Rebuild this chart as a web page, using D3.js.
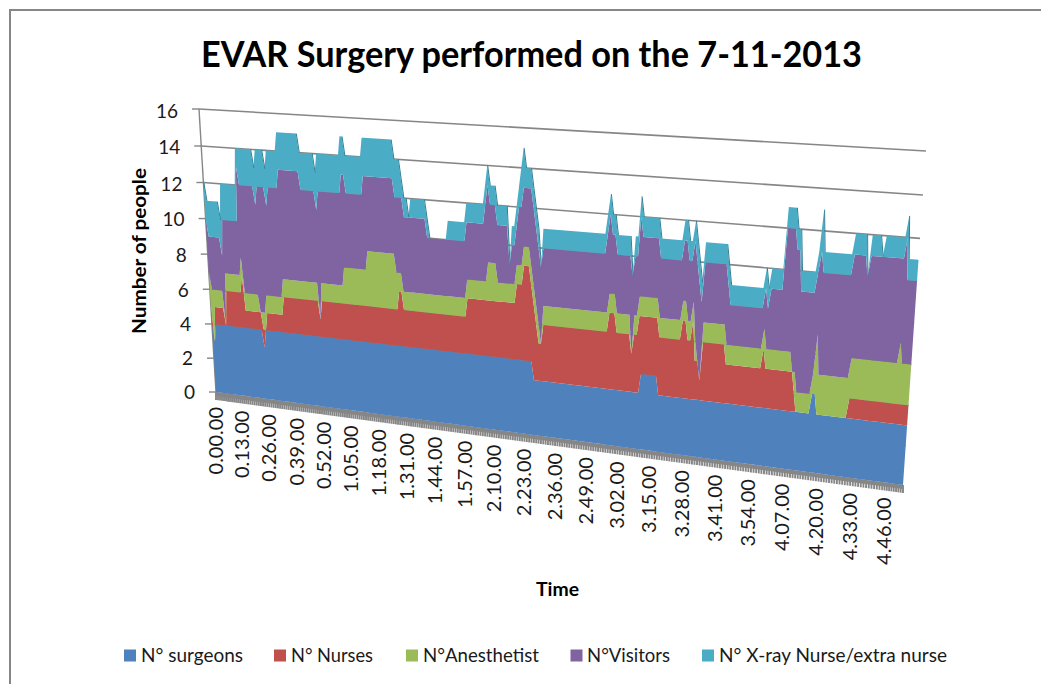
<!DOCTYPE html>
<html><head><meta charset="utf-8">
<style>html,body{margin:0;padding:0;background:#fff;overflow:hidden}svg{display:block}text{font-family:Lato,"Noto Sans",sans-serif}</style>
<script src="https://cdn.jsdelivr.net/npm/d3@7/dist/d3.min.js"></script>
</head><body><svg id="c" width="1041" height="684"></svg>
<script>
// Start minute of each run of constant staffing; a run lasts until the next start.
const runStart = [0,1,2,7,8, 16,17,24,25,26, 27,29,30,35,45, 52,53,64,66,74, 75,88,89,91,92, 94,95,102,103,111,
  119,127,128,129,132, 137,138,140,141,142, 143,144,146,147,148, 149,150,151,177,178, 179,181,187,188,190,
  191,198,207,209,211, 212,213,214,215,224, 225,238,239,240,245, 249,250,251,257,258, 259,270,271,275,276, 280,281,289,290];
const lastMinute = 294;
const surgeons = [4,3,4,4,4, 4,4,4,3,4, 4,4,4,4,4, 4,4,4,4,4, 4,4,4,4,4, 4,4,4,4,4,
  4,4,4,4,4, 4,4,4,4,4, 4,4,4,3,3, 3,3,3,3,3, 3,3,3,3,3,
  4,3,3,3,3, 3,3,3,3,3, 3,3,3,3,3, 3,3,3,4,4, 3,3,3,3,3, 3,3,3,3];
const nurses = [1,0,1,0,2, 3,1,1,1,0, 1,1,1,2,2, 1,2,2,2,2, 2,2,3,2,2, 2,2,2,2,2,
  3,3,3,3,3, 3,3,4,4,4, 5,5,4,4,3, 2,2,3,3,4, 4,3,2,3,4,
  3,3,4,3,4, 2,2,1,3,2, 2,3,2,2,2, 2,1,0,0,0, 0,0,1,1,1, 1,1,1,1];
const anesthetist = [2,3,1,0,1, 1,1,0,1,1, 1,1,1,1,1, 0,1,2,2,2, 3,2,1,1,1, 1,1,1,1,1,
  1,1,2,2,1, 1,1,1,1,1, 1,1,1,1,1, 1,0,1,1,1, 1,1,0,1,1,
  1,1,1,1,1, 1,0,0,1,1, 1,1,1,1,1, 0,1,1,1,3, 2,2,2,2,2, 2,2,3,2];
const visitors = [3,3,3,4,3, 5,6,6,7,7, 6,5,6,6,5, 6,5,5,4,5, 4,4,4,5,4, 4,4,3,3,3,
  3,4,4,3,3, 1,2,2,3,3, 3,3,4,4,4, 4,4,3,4,4, 3,3,4,3,4,
  3,3,3,3,3, 4,4,4,3,3, 2,2,2,3,6, 6,6,5,5,4, 5,6,5,4,5, 5,5,5,4];
const xray = [2,2,2,2,2, 1,2,2,2,2, 2,2,2,2,2, 2,2,2,2,2, 2,2,2,1,1, 0,1,1,0,1,
  1,1,1,1,1, 0,1,1,1,2, 2,1,1,1,1, 1,0,1,1,1, 1,1,0,1,1,
  1,1,1,1,1, 1,1,1,1,1, 1,1,1,1,1, 1,1,1,1,2, 1,1,1,0,1, 0,1,1,1];
const seriesNames = ["N° surgeons","N° Nurses","N°Anesthetist","N°Visitors","N° X-ray Nurse/extra nurse"];
const seriesColors = ["#4F81BD","#C0504D","#9BBB59","#8064A2","#4BACC6"];
const xTickLabels = ["0.00.00","0.13.00","0.26.00","0.39.00","0.52.00","1.05.00","1.18.00","1.31.00","1.44.00","1.57.00","2.10.00","2.23.00","2.36.00","2.49.00","3.02.00","3.15.00","3.28.00","3.41.00","3.54.00","4.07.00","4.20.00","4.33.00","4.46.00"];
const xTickMinutes = [0,13,26,39,52,65,78,91,104,117,130,143,156,169,182,195,208,221,234,247,260,273,286];
const yTicks = [0,2,4,6,8,10,12,14,16];
const legendSpans = [[124,141,243],[274,291,373],[406,423,539],[570.5,587,670],[702,719,947]];

const svg = d3.select("#c");
const gray = "#868686";

// Perspective wall: corners of the (minute, people) plane on screen
const P00=[216,392], P10=[903,485], P11=[926,151], P01=[199,109];
const sx=P00[0]-P10[0]+P11[0]-P01[0], sy=P00[1]-P10[1]+P11[1]-P01[1];
const dx1=P10[0]-P11[0], dx2=P01[0]-P11[0], dy1=P10[1]-P11[1], dy2=P01[1]-P11[1];
const den=dx1*dy2-dx2*dy1, pg=(sx*dy2-dx2*sy)/den, ph=(dx1*sy-sx*dy1)/den;
const pa=P10[0]-P00[0]+pg*P10[0], pb=P01[0]-P00[0]+ph*P01[0];
const pd=P10[1]-P00[1]+pg*P10[1], pe=P01[1]-P00[1]+ph*P01[1];
const tScale=d3.scaleLinear().domain([0,16,40,95,150,245,285,lastMinute]).range([0,.0554,.1411,.3271,.5162,.8413,.9744,1]);
const vScale=d3.scaleLinear().domain([0,16]).range([0,1]);
function project(t,v){const u=tScale(t),w=vScale(v),q=pg*u+ph*w+1;
  return [(pa*u+pb*w+P00[0])/q,(pd*u+pe*w+P00[1])/q];}

// frame
svg.append("rect").attr("x",10).attr("y",10).attr("width",1200).attr("height",1000)
  .attr("fill","#fff").attr("stroke",gray).attr("stroke-width",2);

// title
svg.append("text").attr("x",531.5).attr("y",67).attr("text-anchor","middle")
  .attr("font-size",37).attr("font-weight",700).attr("fill","#000")
  .attr("textLength",661).attr("lengthAdjust","spacingAndGlyphs")
  .text("EVAR Surgery performed on the 7-11-2013");

// gridlines + y axis
yTicks.forEach(v=>{
  const L=project(0,v),R=project(lastMinute,v);
  if(v>0) svg.append("line").attr("x1",L[0]).attr("y1",L[1]).attr("x2",R[0]).attr("y2",R[1])
    .attr("stroke",gray).attr("stroke-width",1.6);
  svg.append("line").attr("x1",L[0]-7).attr("y1",L[1]).attr("x2",L[0]).attr("y2",L[1])
    .attr("stroke",gray).attr("stroke-width",1.4);
  svg.append("text").attr("x",L[0]-21).attr("y",L[1]+7+v/16*1.5).attr("text-anchor","end")
    .attr("font-size",19).attr("fill","#1a1a1a").text(v);
});
{const A=project(0,0),B=project(0,16);
 svg.append("line").attr("x1",A[0]).attr("y1",A[1]).attr("x2",B[0]).attr("y2",B[1]).attr("stroke",gray).attr("stroke-width",1.4);}

// knots: each run holds its value from its start to the minute before the next run
const keys=[surgeons,nurses,anesthetist,visitors,xray];
const knots=[];
runStart.forEach((m,i)=>{
  const end=i+1<runStart.length?runStart[i+1]-1:lastMinute;
  knots.push({t:m,i});
  if(end>m) knots.push({t:end,i});
});
const stacker=d3.stack().keys(d3.range(keys.length)).value((k,s)=>keys[s][k.i]);
const layers=stacker(knots);
const areaGen=d3.area()
  .x0((p,i)=>project(knots[i].t,p[0])[0]).y0((p,i)=>project(knots[i].t,p[0])[1])
  .x1((p,i)=>project(knots[i].t,p[1])[0]).y1((p,i)=>project(knots[i].t,p[1])[1]);

// x axis: solid floor edge with a tooth per minute
d3.range(0,lastMinute+1).forEach(t=>{
  const A=project(t,0);
  svg.append("line").attr("x1",A[0]).attr("y1",A[1]).attr("x2",A[0]).attr("y2",A[1]+8)
    .attr("stroke",gray).attr("stroke-width",1.9);
});
{const A=project(0,0),B=project(lastMinute,0);
 svg.append("line").attr("x1",A[0]).attr("y1",A[1]+2).attr("x2",B[0]).attr("y2",B[1]+2)
   .attr("stroke",gray).attr("stroke-width",4);}

svg.selectAll("path.layer").data(layers).join("path").attr("class","layer")
  .attr("d",areaGen).attr("fill",(l,i)=>seriesColors[i]);

// darker side faces on the descents of the top layer
const topLayer=layers[4];
for(let i=1;i<topLayer.length;i++){
  if(topLayer[i][1]<topLayer[i-1][1]){
    const A=project(knots[i-1].t,topLayer[i-1][1]),B=project(knots[i].t,topLayer[i][1]);
    svg.append("line").attr("x1",A[0]+.4).attr("y1",A[1]).attr("x2",B[0]+.4).attr("y2",B[1])
      .attr("stroke","#2f7f96").attr("stroke-width",1);
  }
}

// x tick labels
xTickLabels.forEach((s,i)=>{
  const A=project(xTickMinutes[i],0);
  svg.append("text").attr("transform",`translate(${A[0]+7},${A[1]+15}) rotate(-90)`)
    .attr("text-anchor","end").attr("font-size",20).attr("fill","#1a1a1a").text(s);
});

// axis titles
svg.append("text").attr("transform","translate(146,251) rotate(-90)").attr("text-anchor","middle")
  .attr("font-size",18).attr("font-weight",700).attr("fill","#000")
  .attr("textLength",166).attr("lengthAdjust","spacingAndGlyphs").text("Number of people");
svg.append("text").attr("x",557.5).attr("y",595.5).attr("text-anchor","middle")
  .attr("font-size",18).attr("font-weight",700).attr("fill","#000")
  .attr("textLength",43).attr("lengthAdjust","spacingAndGlyphs").text("Time");

// legend
seriesNames.forEach((s,i)=>{
  const [sw,tx,te]=legendSpans[i];
  svg.append("rect").attr("x",sw).attr("y",649.5).attr("width",12).attr("height",12).attr("fill",seriesColors[i]);
  svg.append("text").attr("x",tx).attr("y",662).attr("font-size",19).attr("fill","#1a1a1a")
    .attr("textLength",te-tx).attr("lengthAdjust","spacingAndGlyphs").text(s);
});
</script></body></html>
